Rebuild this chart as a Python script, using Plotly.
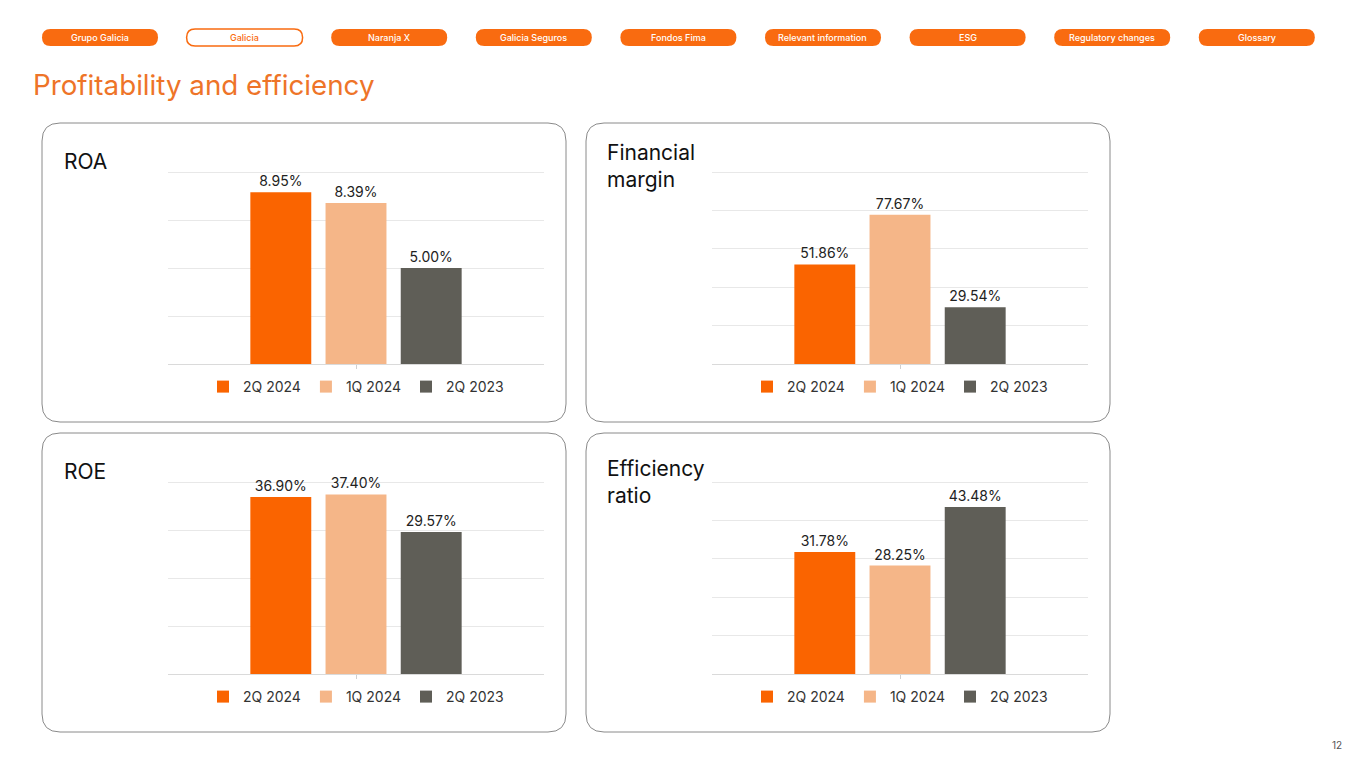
import plotly.graph_objects as go

# page body has an 8px margin; figure is sized so it fits the window exactly
OFF = 8
FW, FH = 1349, 752

# ---------------- data ----------------
periods = ["2Q 2024", "1Q 2024", "2Q 2023"]
roa = [8.95, 8.39, 5.00]
financial_margin = [51.86, 77.67, 29.54]
roe = [36.90, 37.40, 29.57]
efficiency_ratio = [31.78, 28.25, 43.48]

panel_titles = ["ROA", "Financial<br>margin", "ROE", "Efficiency<br>ratio"]
axis_max = [10, 100, 40, 50]
axis_step = [2.5, 20, 10, 10]

nav_labels = ["Grupo Galicia", "Galicia", "Naranja X", "Galicia Seguros", "Fondos Fima",
              "Relevant information", "ESG", "Regulatory changes", "Glossary"]
active_nav = "Galicia"
page_number = "12"

# ---------------- style ----------------
colors = ["#FA6400", "#F5B688", "#5F5E57"]
ORANGE = "#F96B10"
TITLE_ORANGE = "#EE7428"
FONT = "Inter"


def px(x):
    return (x - OFF) / FW


def py(y):
    return 1 - (y - OFF) / FH


def rrect(x0, y0, x1, y1, r):
    pts = [
        f"M{px(x0 + r)},{py(y0)}",
        f"L{px(x1 - r)},{py(y0)}",
        f"Q{px(x1)},{py(y0)} {px(x1)},{py(y0 + r)}",
        f"L{px(x1)},{py(y1 - r)}",
        f"Q{px(x1)},{py(y1)} {px(x1 - r)},{py(y1)}",
        f"L{px(x0 + r)},{py(y1)}",
        f"Q{px(x0)},{py(y1)} {px(x0)},{py(y1 - r)}",
        f"L{px(x0)},{py(y0 + r)}",
        f"Q{px(x0)},{py(y0)} {px(x0 + r)},{py(y0)}",
        "Z",
    ]
    return " ".join(pts)


series = [roa, financial_margin, roe, efficiency_ratio]
boxes = [(42, 123, 566, 422), (586, 123, 1110, 422), (42, 433, 566, 732), (586, 433, 1110, 732)]
plot_areas = [(168, 172, 544, 364), (712, 172, 1088, 364), (168, 482, 544, 674), (712, 482, 1088, 674)]
legend_y = [387, 387, 697, 697]
title_pos = [(62, 161), (605, 166), (62, 471), (605, 482)]
EXT = 0.03  # extra headroom so the top gridline is drawn

fig = go.Figure()
layout = dict(
    width=FW, height=FH,
    margin=dict(l=0, r=0, t=0, b=0),
    paper_bgcolor="white", plot_bgcolor="white",
    barmode="group", bargap=0.4, bargroupgap=0.19,
    font=dict(family=FONT, color="#222222"),
    showlegend=True,
    shapes=[], annotations=[],
)

for i, vals in enumerate(series):
    n = "" if i == 0 else str(i + 1)
    leg = "legend" + n
    for j, p in enumerate(periods):
        fig.add_trace(go.Bar(
            x=[panel_titles[i]], y=[vals[j]], name=p,
            marker=dict(color=colors[j], line=dict(width=0)),
            text=[f"{vals[j]:.2f}%"], textposition="outside", cliponaxis=False,
            textfont=dict(size=14, color="#222222", family=FONT),
            xaxis="x" + n, yaxis="y" + n, legend=leg, hoverinfo="skip",
        ))
    x0, y0, x1, y1 = plot_areas[i]
    top = y0 - EXT * (y1 - y0)
    layout["xaxis" + n] = dict(
        domain=[px(x0), px(x1)], anchor="y" + n, range=[-0.5, 0.5],
        showticklabels=False, ticks="outside", ticklen=4, tickcolor="#D0D0D0",
        showline=True, linecolor="#DADADA", linewidth=1, showgrid=False, fixedrange=True,
    )
    layout["yaxis" + n] = dict(
        domain=[py(y1), py(top)], anchor="x" + n, range=[0, axis_max[i] * (1 + EXT)],
        dtick=axis_step[i], tick0=0, showticklabels=False, showgrid=True,
        gridcolor="#E8E8E8", gridwidth=1, zeroline=False, showline=False, fixedrange=True,
    )
    layout[leg] = dict(
        orientation="h", x=px((x0 + x1) / 2), xanchor="center",
        y=py(legend_y[i]), yanchor="middle",
        font=dict(size=14, color="#333333", family=FONT),
        bgcolor="rgba(0,0,0,0)", itemclick=False, itemdoubleclick=False,
        tracegroupgap=0,
    )
    bx0, by0, bx1, by1 = boxes[i]
    layout["shapes"].append(dict(type="path", xref="paper", yref="paper",
                                 path=rrect(bx0, by0, bx1, by1, 18),
                                 line=dict(color="#8A8A8A", width=1), fillcolor="rgba(0,0,0,0)",
                                 layer="below"))
    tx, ty = title_pos[i]
    layout["annotations"].append(dict(
        text=panel_titles[i], x=px(tx), y=py(ty), xref="paper", yref="paper",
        xanchor="left", yanchor="middle", align="left", showarrow=False,
        font=dict(size=21, color="#111111", family=FONT),
    ))

# navigation pills
for k, lab in enumerate(nav_labels):
    x0 = 42 + k * 144.6
    x1 = x0 + 116
    active = lab == active_nav
    layout["shapes"].append(dict(
        type="path", xref="paper", yref="paper", path=rrect(x0, 29, x1, 46, 8.5),
        fillcolor="white" if active else ORANGE,
        line=dict(color=ORANGE, width=1.5 if active else 0),
    ))
    layout["annotations"].append(dict(
        text=lab, x=px((x0 + x1) / 2), y=py(37.8), xref="paper", yref="paper",
        xanchor="center", yanchor="middle", showarrow=False,
        font=dict(size=9, color=ORANGE if active else "white", family=FONT, weight=500),
    ))

layout["annotations"].append(dict(
    text="Profitability and efficiency", x=px(31), y=py(85), xref="paper", yref="paper",
    xanchor="left", yanchor="middle", showarrow=False,
    font=dict(size=27.75, color=TITLE_ORANGE, family=FONT),
))
layout["annotations"].append(dict(
    text=page_number, x=px(1344), y=py(745), xref="paper", yref="paper",
    xanchor="right", yanchor="middle", showarrow=False,
    font=dict(size=10, color="#555555", family=FONT),
))

fig.update_layout(**layout)
fig.write_html("out.html", config={"displayModeBar": False})
